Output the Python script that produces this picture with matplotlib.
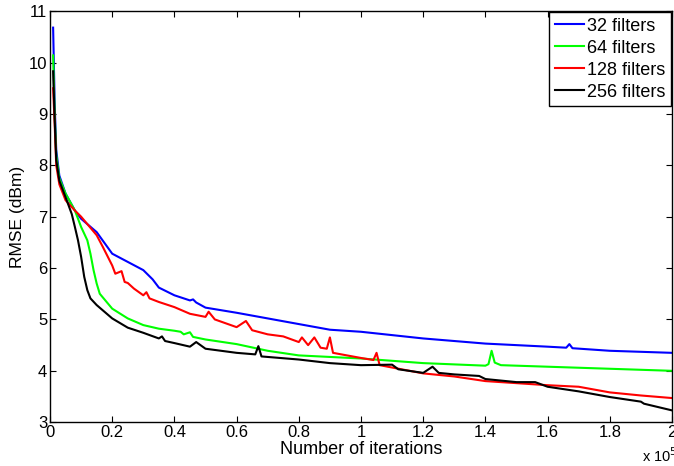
import matplotlib
matplotlib.use("Agg")
import matplotlib.pyplot as plt

plt.rcParams['font.family'] = ['Liberation Sans', 'DejaVu Sans']

# iterations in units of 1e5
x32 = [0.01, 0.015, 0.02, 0.03, 0.05, 0.08, 0.10, 0.15, 0.20, 0.25, 0.30, 0.33, 0.35,
       0.40, 0.45, 0.46, 0.47, 0.50, 0.60, 0.70, 0.80, 0.90, 1.00, 1.20, 1.40, 1.60,
       1.66, 1.67, 1.68, 1.80, 1.90, 2.00]
y32 = [10.68, 9.2, 8.3, 7.8, 7.45, 7.12, 6.96, 6.70, 6.28, 6.12, 5.96, 5.78, 5.62,
       5.47, 5.37, 5.39, 5.33, 5.23, 5.13, 5.02, 4.91, 4.80, 4.76, 4.63, 4.53, 4.47,
       4.45, 4.52, 4.44, 4.39, 4.37, 4.35]

x64 = [0.01, 0.015, 0.02, 0.03, 0.05, 0.08, 0.10, 0.12, 0.13, 0.14, 0.15, 0.16, 0.20,
       0.25, 0.30, 0.35, 0.40, 0.42, 0.43, 0.45, 0.46, 0.50, 0.60, 0.70, 0.80, 0.90,
       1.00, 1.20, 1.40, 1.41, 1.42, 1.43, 1.45, 1.60, 1.80, 2.00]
y64 = [10.14, 9.0, 8.2, 7.75, 7.45, 7.12, 6.80, 6.54, 6.28, 5.96, 5.70, 5.50, 5.21,
       5.02, 4.89, 4.82, 4.78, 4.76, 4.71, 4.75, 4.66, 4.61, 4.52, 4.39, 4.30, 4.27,
       4.24, 4.15, 4.10, 4.13, 4.39, 4.16, 4.11, 4.08, 4.04, 4.00]

x128 = [0.01, 0.015, 0.02, 0.03, 0.05, 0.08, 0.10, 0.15, 0.17, 0.20, 0.21, 0.23, 0.24,
        0.25, 0.27, 0.30, 0.31, 0.32, 0.35, 0.40, 0.45, 0.50, 0.51, 0.53, 0.60, 0.63,
        0.65, 0.70, 0.75, 0.80, 0.81, 0.83, 0.85, 0.87, 0.89, 0.90, 0.91, 1.00, 1.04,
        1.05, 1.06, 1.20, 1.30, 1.40, 1.60, 1.70, 1.80, 1.90, 2.00]
y128 = [9.5, 8.8, 8.0, 7.63, 7.32, 7.12, 7.0, 6.64, 6.41, 6.05, 5.89, 5.94, 5.73,
        5.71, 5.60, 5.47, 5.53, 5.41, 5.34, 5.24, 5.11, 5.05, 5.15, 5.0, 4.85, 4.97,
        4.79, 4.71, 4.67, 4.56, 4.65, 4.50, 4.65, 4.45, 4.43, 4.65, 4.35, 4.25, 4.21,
        4.35, 4.11, 3.95, 3.89, 3.80, 3.72, 3.69, 3.58, 3.52, 3.47]

x256 = [0.01, 0.015, 0.02, 0.03, 0.05, 0.07, 0.08, 0.09, 0.10, 0.11, 0.12, 0.13, 0.15,
        0.20, 0.25, 0.30, 0.35, 0.36, 0.37, 0.40, 0.45, 0.47, 0.50, 0.60, 0.66, 0.67,
        0.68, 0.80, 0.90, 1.00, 1.10, 1.12, 1.20, 1.23, 1.25, 1.30, 1.38, 1.40, 1.50,
        1.56, 1.60, 1.70, 1.80, 1.90, 1.91, 2.00]
y256 = [9.83, 8.9, 8.1, 7.7, 7.38, 7.05, 6.80, 6.54, 6.22, 5.83, 5.57, 5.41, 5.28,
        5.02, 4.84, 4.74, 4.63, 4.67, 4.58, 4.54, 4.47, 4.56, 4.43, 4.35, 4.32, 4.48,
        4.28, 4.22, 4.15, 4.11, 4.12, 4.03, 3.96, 4.08, 3.96, 3.93, 3.90, 3.84, 3.78,
        3.78, 3.69, 3.60, 3.49, 3.40, 3.36, 3.23]

labels = ['32 filters', '64 filters', '128 filters', '256 filters']
colors = ['#0000ff', '#00ff00', '#ff0000', '#000000']

fig = plt.figure(figsize=(6.74, 4.66), dpi=100)
ax = fig.add_axes([0.0742, 0.094, 0.9228, 0.882])

for xs, ys, lab, c in zip([x32, x64, x128, x256], [y32, y64, y128, y256], labels, colors):
    ax.plot(xs, ys, color=c, linewidth=1.5, label=lab)

ax.set_xlim(0, 2)
ax.set_ylim(3, 11)
ax.set_xticks([0, 0.2, 0.4, 0.6, 0.8, 1, 1.2, 1.4, 1.6, 1.8, 2])
ax.set_xticklabels(['0', '0.2', '0.4', '0.6', '0.8', '1', '1.2', '1.4', '1.6', '1.8', '2'])
ax.set_yticks(range(3, 12))
ax.tick_params(direction='in', top=True, right=True, labelsize=12, length=4, pad=2)
for s in ax.spines.values():
    s.set_linewidth(1.0)

ax.set_xlabel('Number of iterations', fontsize=13, labelpad=1)
ax.set_ylabel('RMSE (dBm)', fontsize=12.5, labelpad=3)
fig.text(0.952, 0.008, r'x 10$^5$', fontsize=10.5)

leg = ax.legend(loc='upper right', fontsize=13, fancybox=False, framealpha=1,
                edgecolor='black', borderaxespad=0.05, handlelength=1.6,
                handletextpad=0.2, labelspacing=0.28, borderpad=0.3)
leg.get_frame().set_linewidth(1.0)

fig.savefig('out.png', dpi=100)
